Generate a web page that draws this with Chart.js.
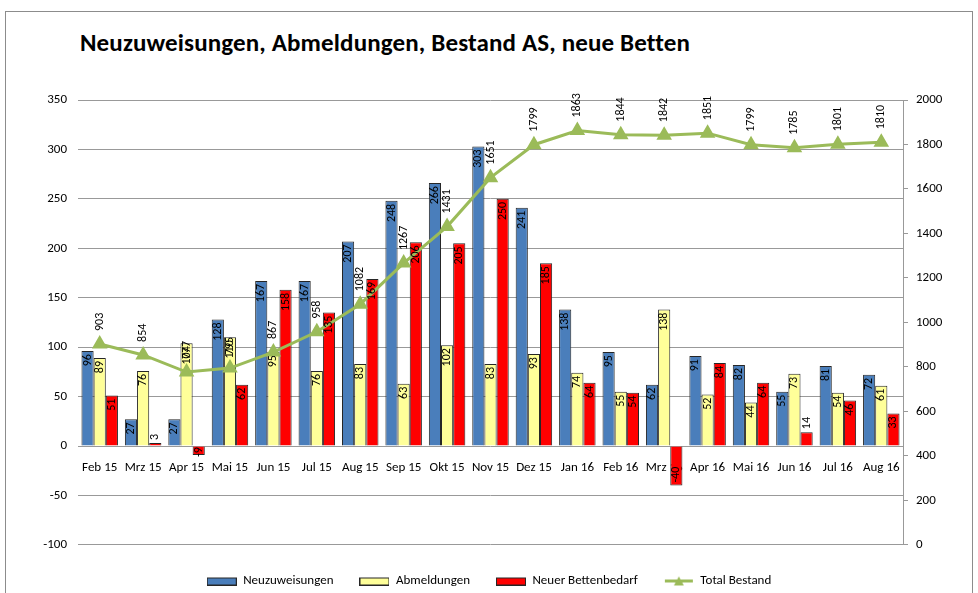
<!DOCTYPE html>
<html><head><meta charset="utf-8">
<script src="https://cdn.jsdelivr.net/npm/chart.js@4/dist/chart.umd.min.js"></script>
<style>
html,body{margin:0;padding:0;background:#fff;}
#wrap{position:relative;width:978px;height:593px;overflow:hidden;background:#fff;}
#frame{position:absolute;left:5px;top:11px;width:968px;height:600px;border:1px solid #8c8c8c;box-sizing:border-box;}
#title{position:absolute;left:80px;top:27px;font:bold 25px Carlito, Lato, sans-serif;color:#000;white-space:nowrap;letter-spacing:0.15px;}
canvas{position:absolute;left:0;top:0;}
</style></head>
<body><div id="wrap"><div id="frame"></div><div id="title">Neuzuweisungen, Abmeldungen, Bestand AS, neue Betten</div><canvas id="c" width="978" height="593"></canvas></div>
<script>
const categories = ['Feb 15','Mrz 15','Apr 15','Mai 15','Jun 15','Jul 15','Aug 15','Sep 15','Okt 15','Nov 15','Dez 15','Jan 16','Feb 16','Mrz 16','Apr 16','Mai 16','Jun 16','Jul 16','Aug 16'];
const neuzuweisungen = [96,27,27,128,167,167,207,248,266,303,241,138,95,62,91,82,55,81,72];
const abmeldungen = [89,76,104,110,95,76,83,63,102,83,93,74,55,138,52,44,73,54,61];
const neuerBettenbedarf = [51,3,-9,62,158,135,169,206,205,250,185,64,54,-40,84,64,14,46,33];
const totalBestand = [903,854,777,795,867,958,1082,1267,1431,1651,1799,1863,1844,1842,1851,1799,1785,1801,1810];
const leftAxis = {min:-100, max:350, step:50};
const rightAxis = {min:0, max:2000, step:200};

const FONT = 'Carlito, Lato, sans-serif';
const BLUE = '#4A7EBB', YELLOW = '#FFFF99', RED = '#FF0000', GREEN = '#9BBB59', EDGE = '#262626';

function swatch(fill, stroke){
  const c = document.createElement('canvas'); c.width = 30; c.height = 9;
  const g = c.getContext('2d');
  g.fillStyle = fill; g.fillRect(0.5,1.5,29,7);
  g.strokeStyle = stroke; g.lineWidth = 1; g.strokeRect(0.5,1.5,29,7);
  return c;
}
function lineSwatch(){
  const c = document.createElement('canvas'); c.width = 30; c.height = 11;
  const g = c.getContext('2d');
  g.strokeStyle = GREEN; g.lineWidth = 3; g.beginPath(); g.moveTo(1,5.5); g.lineTo(29,5.5); g.stroke();
  g.fillStyle = GREEN; g.beginPath(); g.moveTo(15,1); g.lineTo(20,10); g.lineTo(10,10); g.closePath(); g.fill();
  return c;
}

const labelPlugin = {
  id: 'vlabels',
  afterDatasetsDraw(chart){
    const ctx = chart.ctx;
    chart.data.datasets.forEach((ds, di) => {
      const meta = chart.getDatasetMeta(di);
      meta.data.forEach((el, i) => {
        const v = ds.data[i];
        const txt = String(v);
        ctx.save();
        ctx.font = '12px ' + FONT;
        ctx.fillStyle = '#000';
        ctx.textBaseline = 'middle';
        const w = ctx.measureText(txt).width;
        ctx.translate(el.x, el.y);
        ctx.rotate(-Math.PI/2);
        if (ds.type === 'line') {
          ctx.textAlign = 'left';
          ctx.fillText(txt, 13, 0);
        } else {
          const h = Math.abs(el.base - el.y);
          if (v >= 0) {
            if (h >= w + 6) { ctx.textAlign = 'right'; ctx.fillText(txt, -3, 0); }
            else { ctx.textAlign = 'left'; ctx.fillText(txt, 3, 0); }
          } else {
            if (h >= w + 6) { ctx.textAlign = 'left'; ctx.fillText(txt, 3, 0); }
            else { ctx.textAlign = 'left'; ctx.fillText(txt, -2, 0); }
          }
        }
        ctx.restore();
      });
    });
  }
};

const swatches = [swatch(BLUE, EDGE), swatch(YELLOW, EDGE), swatch(RED, EDGE), lineSwatch()];

const chart = new Chart(document.getElementById('c'), {
  type: 'bar',
  data: {
    labels: categories,
    datasets: [
      {label:'Neuzuweisungen', data: neuzuweisungen, backgroundColor: BLUE, borderColor: EDGE, borderWidth: 1, yAxisID:'y', categoryPercentage:0.84, barPercentage:1.0},
      {label:'Abmeldungen', data: abmeldungen, backgroundColor: YELLOW, borderColor: EDGE, borderWidth: 1, yAxisID:'y', categoryPercentage:0.84, barPercentage:1.0},
      {label:'Neuer Bettenbedarf', data: neuerBettenbedarf, backgroundColor: RED, borderColor: EDGE, borderWidth: 1, yAxisID:'y', categoryPercentage:0.84, barPercentage:1.0},
      {type:'line', label:'Total Bestand', data: totalBestand, borderColor: GREEN, backgroundColor: GREEN, borderWidth: 3, pointStyle:'triangle', pointRadius: 6, pointBackgroundColor: GREEN, pointBorderColor: GREEN, tension: 0, yAxisID:'y1', order: -1}
    ]
  },
  options: {
    responsive: false,
    animation: false,
    devicePixelRatio: 1,
    layout: {padding: {left: 10, right: 10, top: 100, bottom: -4.5}},
    plugins: {
      tooltip: {enabled: false},
      title: {display: false},
      legend: {
        position: 'bottom',
        title: {display: true, text: '', font: {size: 3}, padding: 0},
        labels: {
          usePointStyle: true,
          pointStyleWidth: 30,
          boxHeight: 9,
          padding: 26,
          color: '#000',
          font: {family: FONT, size: 13},
          generateLabels(ch){
            return ch.data.datasets.map((ds, i) => ({
              text: ds.label, datasetIndex: i, pointStyle: swatches[i],
              fillStyle: ds.backgroundColor, strokeStyle: ds.borderColor, lineWidth: 0, hidden: false, fontColor: '#000'
            }));
          }
        }
      }
    },
    scales: {
      x: {
        type: 'category',
        position: {y: 0},
        offset: true,
        grid: {display: false},
        border: {display: false},
        ticks: {color: '#000', font: {family: FONT, size: 13}, padding: 6, maxRotation: 0, autoSkip: false}
      },
      y: {
        position: 'left',
        min: leftAxis.min, max: leftAxis.max,
        ticks: {stepSize: leftAxis.step, color: '#000', font: {family: FONT, size: 13}, padding: 11},
        grid: {color: '#999', drawTicks: false},
        border: {display: false},
        afterFit(s){ s.width = 68; }
      },
      y1: {
        position: 'right',
        min: rightAxis.min, max: rightAxis.max,
        ticks: {stepSize: rightAxis.step, color: '#000', font: {family: FONT, size: 13}, padding: 8, callback: v => String(v)},
        grid: {drawOnChartArea: false, drawTicks: true, tickLength: 5, color: '#999'},
        border: {display: true, color: '#999'},
        afterFit(s){ s.width = 65; }
      }
    }
  },
  plugins: [labelPlugin]
});
</script>
</body></html>
